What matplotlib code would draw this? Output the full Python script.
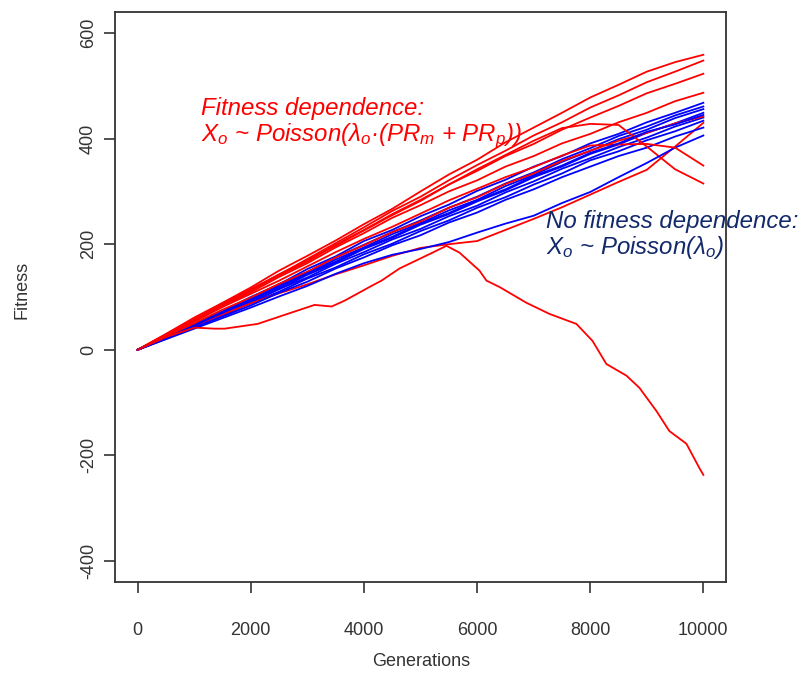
import numpy as np
import matplotlib
matplotlib.use("Agg")
import matplotlib.pyplot as plt

plt.rcParams['font.family'] = ['Liberation Sans', 'DejaVu Sans']
plt.rcParams['mathtext.fontset'] = 'custom'
plt.rcParams['mathtext.it'] = 'Liberation Sans:italic'
plt.rcParams['mathtext.rm'] = 'Liberation Sans'

# generations sampled every 500
gens = np.arange(0, 10001, 500)

# fitness dependence runs (red)
red_runs = [
    [0, 30, 61, 89, 118, 150, 178, 207, 238, 267, 300, 332, 360, 393, 421, 449, 478, 502, 527, 545, 559],
    [0, 29, 57, 87, 115, 142, 172, 202, 232, 263, 290, 321, 350, 377, 406, 431, 459, 482, 507, 527, 548],
    [0, 28, 56, 83, 112, 141, 167, 199, 227, 257, 284, 313, 339, 367, 390, 417, 440, 462, 486, 504, 523],
    [0, 27, 55, 82, 109, 138, 164, 194, 221, 250, 274, 300, 321, 347, 367, 391, 409, 431, 449, 471, 487],
    [0, 25, 50, 76, 99, 125, 148, 175, 198, 223, 243, 269, 289, 314, 334, 358, 377, 396, 411, 429, 442],
    [0, 23, 46, 67, 88, 107, 124, 143, 160, 178, 193, 200, 206, 227, 248, 270, 294, 318, 341, 385, 430],
    [0, 29, 58, 85, 114, 143, 170, 197, 226, 255, 282, 313, 342, 369, 396, 420, 428, 426, 385, 342, 315],
    [0, 27, 53, 81, 106, 131, 158, 185, 210, 233, 258, 283, 305, 327, 346, 368, 387, 389, 390, 383, 349],
]

# the run that collapses
low_gens = [0, 500, 1007, 1360, 1537, 2120, 2650, 3127, 3430, 3657, 4134, 4310, 4629,
            5212, 5459, 5690, 6042, 6166, 6396, 6873, 7279, 7756, 8039, 8286, 8640,
            8869, 9170, 9399, 9700, 9929, 10000]
low_fit = [0, 24, 42, 40, 40, 49, 68, 85, 82, 93, 121, 131, 154,
           184, 197, 184, 150, 131, 119, 89, 68, 49, 17, -27, -49,
           -72, -116, -154, -178, -224, -237]

# no fitness dependence runs (blue)
blue_runs = [
    [0, 24, 49, 73, 100, 124, 153, 177, 206, 227, 253, 275, 301, 322, 347, 367, 391, 409, 431, 449, 468],
    [0, 23, 47, 71, 97, 124, 147, 175, 199, 223, 245, 269, 290, 315, 336, 361, 382, 405, 423, 444, 461],
    [0, 23, 46, 70, 94, 121, 144, 171, 194, 219, 240, 264, 284, 310, 331, 356, 377, 399, 417, 439, 456],
    [0, 22, 45, 68, 92, 115, 142, 165, 191, 212, 237, 257, 281, 302, 327, 347, 371, 389, 411, 429, 449],
    [0, 22, 44, 67, 89, 115, 137, 163, 185, 209, 229, 253, 273, 298, 319, 343, 363, 384, 402, 423, 440],
    [0, 21, 43, 65, 88, 110, 135, 156, 181, 201, 225, 245, 269, 289, 313, 334, 359, 376, 397, 414, 434],
    [0, 21, 42, 63, 84, 108, 129, 154, 175, 198, 217, 241, 260, 284, 304, 327, 347, 367, 383, 404, 421],
    [0, 20, 40, 60, 80, 101, 121, 144, 164, 180, 191, 204, 222, 239, 254, 278, 299, 327, 354, 383, 406],
    [0, 22, 46, 70, 95, 118, 145, 167, 193, 214, 239, 259, 283, 304, 329, 349, 373, 391, 413, 427, 445],
]

xticks = [0, 2000, 4000, 6000, 8000, 10000]
yticks = [-400, -200, 0, 200, 400, 600]

fig = plt.figure(figsize=(8.01, 6.73), dpi=100)
ax = fig.add_axes([115 / 801, 1 - 582 / 673, 611 / 801, 570 / 673])

RED = '#ff0000'
BLUE = '#0000ff'
for i in range(max(len(red_runs), len(blue_runs))):
    if i < len(blue_runs):
        ax.plot(gens, blue_runs[i], color=BLUE, lw=1.3)
    if i < len(red_runs):
        ax.plot(gens, red_runs[i], color=RED, lw=1.3)
ax.plot(low_gens, low_fit, color=RED, lw=1.3)

ax.set_xlim(-400, 10400)
ax.set_ylim(-440, 640)
ax.set_xticks(xticks)
ax.set_yticks(yticks)
ax.set_xticklabels([str(t) for t in xticks])
ax.set_yticklabels([str(t) for t in yticks], rotation=90, va='center')

for s in ax.spines.values():
    s.set_color('#333333')
    s.set_linewidth(1.3)
ax.tick_params(axis='both', length=8, width=1.2, color='#333333',
               labelcolor='#333333', labelsize=13)
ax.tick_params(axis='x', pad=21)
ax.tick_params(axis='y', pad=5)

fig.text(421 / 801, 1 - 661 / 673, 'Generations', ha='center', va='center',
         fontsize=13, color='#333333')
fig.text(22 / 801, 1 - 290 / 673, 'Fitness', ha='center', va='center',
         rotation=90, fontsize=13, color='#333333')

ax.text(1113, 457, 'Fitness dependence:', color=RED, fontsize=17.3,
        style='italic', va='center', ha='left')
ax.text(1113, 406, r'X$_o$ ~ Poisson(λ$_o$·(PR$_m$ + PR$_p$))', color=RED,
        fontsize=17.3, style='italic', va='center', ha='left')

NAVY = '#12296b'
ax.text(7226, 243, 'No fitness dependence:', color=NAVY, fontsize=17.3,
        style='italic', va='center', ha='left')
ax.text(7226, 193, r'X$_o$ ~ Poisson(λ$_o$)', color=NAVY, fontsize=17.3,
        style='italic', va='center', ha='left')

fig.savefig('out.png', dpi=100)
